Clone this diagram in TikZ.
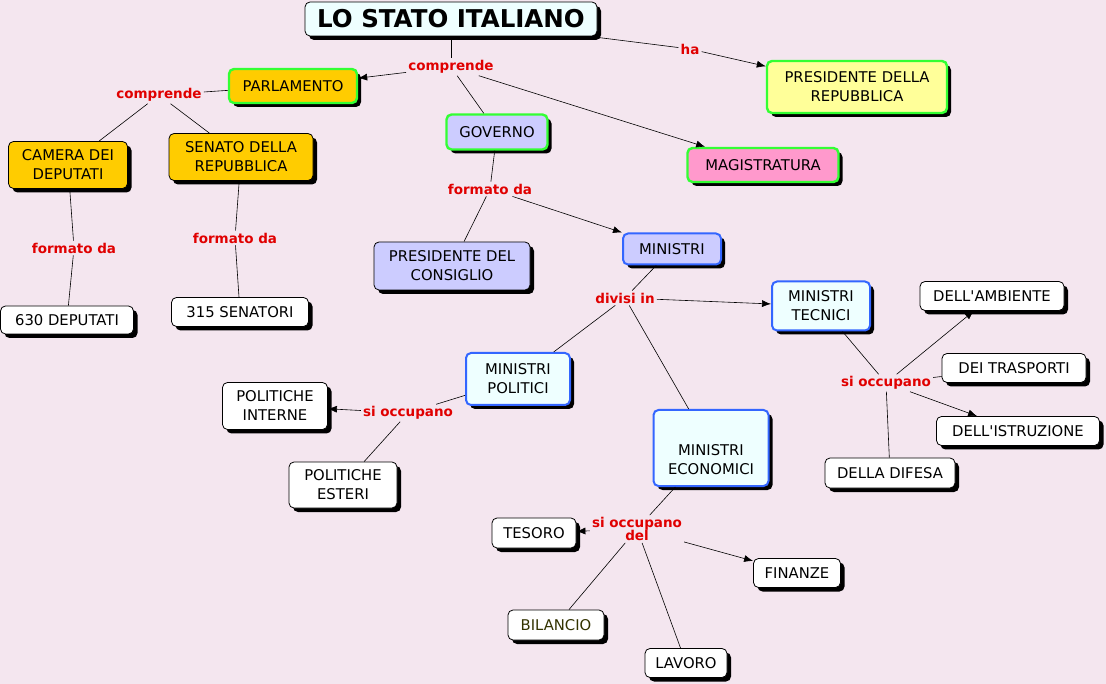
\documentclass[tikz,border=0pt]{standalone}
\usepackage{fontspec}
\setmainfont{DejaVu Sans}[Ligatures=TeXOff]
\usetikzlibrary{arrows.meta,shadows}
\definecolor{bg}{HTML}{F4E6EF}
\definecolor{lab}{HTML}{E00000}
\definecolor{gbord}{HTML}{33FF33}
\definecolor{bbord}{HTML}{3366FF}
\definecolor{orng}{HTML}{FFCC00}
\definecolor{lilac}{HTML}{CCCCFF}
\definecolor{pyel}{HTML}{FFFF99}
\definecolor{pink}{HTML}{FF99CC}
\definecolor{cyan1}{HTML}{EEFFFF}
\begin{document}
\begin{tikzpicture}[x=1pt,y=-1pt,
  box/.style 2 args={draw=black,rounded corners=5pt,line width=0.8pt,align=center,
    minimum width=#1pt,minimum height=#2pt,inner sep=1pt,
    font=\fontsize{14.8}{19}\selectfont,
    drop shadow={shadow xshift=4pt,shadow yshift=-4pt,fill=black,opacity=1}},
  gb/.style={draw=gbord,line width=2.4pt},
  bb/.style={draw=bbord,line width=2pt},
  lbl/.style={text=lab,font=\bfseries\fontsize{13.5}{15}\selectfont,fill=bg,inner sep=2pt,align=center},
  arr/.style={-{Latex[length=9pt,width=7pt]}},
  ln/.style={draw=black,line width=0.6pt}]
\fill[bg] (0,0) rectangle (1106,684);
\useasboundingbox (0,0) rectangle (1106,684);
% nodes
\node[box={292}{34},fill=cyan1,font=\bfseries\fontsize{24.5}{26}\selectfont] (t) at (451,19) {LO STATO ITALIANO};
\node[box={128}{34},fill=orng,gb] (parl) at (293,86) {PARLAMENTO};
\node[box={180}{52},fill=pyel,gb] (pres) at (857,87) {PRESIDENTE DELLA\\REPUBBLICA};
\node[box={101}{35},fill=lilac,gb] (gov) at (497,132) {GOVERNO};
\node[box={151}{34},fill=pink,gb] (mag) at (763,165) {MAGISTRATURA};
\node[box={119}{47},fill=orng] (cam) at (68,165) {CAMERA DEI\\DEPUTATI};
\node[box={144}{47},fill=orng] (sen) at (241,157) {SENATO DELLA\\REPUBBLICA};
\node[box={133}{28},fill=white] (d630) at (67,320) {630 DEPUTATI};
\node[box={137}{29},fill=white] (s315) at (240,312) {315 SENATORI};
\node[box={156}{48},fill=lilac] (pc) at (452,266) {PRESIDENTE DEL\\CONSIGLIO};
\node[box={98}{31},fill=lilac,bb] (min) at (672,249) {MINISTRI};
\node[box={98}{49},fill=cyan1,bb] (mt) at (821,306) {MINISTRI\\TECNICI};
\node[box={104}{52},fill=cyan1,bb] (mp) at (518,379) {MINISTRI\\POLITICI};
\node[box={115}{76},fill=cyan1,bb] (me) at (711,448) {};
\node[align=center,font=\fontsize{14.8}{19}\selectfont] at (711,460) {MINISTRI\\ECONOMICI};
\node[box={105}{47},fill=white] (pi) at (275,406) {POLITICHE\\INTERNE};
\node[box={108}{46},fill=white] (pe) at (343,485) {POLITICHE\\ESTERI};
\node[box={144}{29},fill=white] (amb) at (992,296) {DELL'AMBIENTE};
\node[box={144}{29},fill=white] (tra) at (1014,368) {DEI TRASPORTI};
\node[box={163}{29},fill=white] (ist) at (1018,431) {DELL'ISTRUZIONE};
\node[box={130}{30},fill=white] (dif) at (890,473) {DELLA DIFESA};
\node[box={84}{30},fill=white] (tes) at (534,533) {TESORO};
\node[box={87}{29},fill=white] (fin) at (797,573) {FINANZE};
\node[box={96}{30},fill=white,text={rgb,255:red,51;green,51;blue,0}] (bil) at (556,625) {BILANCIO};
\node[box={82}{29},fill=white] (lav) at (686,663) {LAVORO};
% labels
\node[lbl] (l1) at (451,67) {comprende};
\node[lbl] (l2) at (690,49) {ha};
\node[lbl] (l3) at (159,95) {comprende};
\node[lbl] (l4) at (490,189) {formato da};
\node[lbl] (l5) at (74,248) {formato da};
\node[lbl] (l6) at (235,238) {formato da};
\node[lbl] (l7) at (625,298) {divisi in};
\node[lbl] (l8) at (886,383) {si occupano};
\node[lbl] (l9) at (408,413) {si occupano};
\node[lbl] (l10) at (637,529) {si occupano\\[-2pt]del};
% connectors
\draw[ln] (t) -- (l1); \draw[ln,arr] (l1) -- (parl); \draw[ln] (l1) -- (gov); \draw[ln,arr] (l1) -- (mag);
\draw[ln] (t) -- (l2); \draw[ln,arr] (l2) -- (pres);
\draw[ln] (parl) -- (l3); \draw[ln] (l3) -- (cam); \draw[ln] (l3) -- (sen);
\draw[ln] (cam) -- (l5); \draw[ln] (l5) -- (d630);
\draw[ln] (sen) -- (l6); \draw[ln] (l6) -- (s315);
\draw[ln] (gov) -- (l4); \draw[ln] (l4) -- (pc); \draw[ln,arr] (l4) -- (min);
\draw[ln] (min) -- (l7); \draw[ln,arr] (l7) -- (mt); \draw[ln] (l7) -- (mp); \draw[ln] (l7) -- (me);
\draw[ln] (mt) -- (l8); \draw[ln,arr] (l8) -- (amb); \draw[ln] (l8) -- (tra); \draw[ln,arr] (l8) -- (ist); \draw[ln] (l8) -- (dif);
\draw[ln] (mp) -- (l9); \draw[ln,arr] (l9) -- (pi); \draw[ln] (l9) -- (pe);
\draw[ln] (me) -- (l10); \draw[ln,arr] (l10) -- (tes); \draw[ln,arr] (l10) -- (fin); \draw[ln] (l10) -- (bil); \draw[ln] (l10) -- (lav);
\end{tikzpicture}
\end{document}
